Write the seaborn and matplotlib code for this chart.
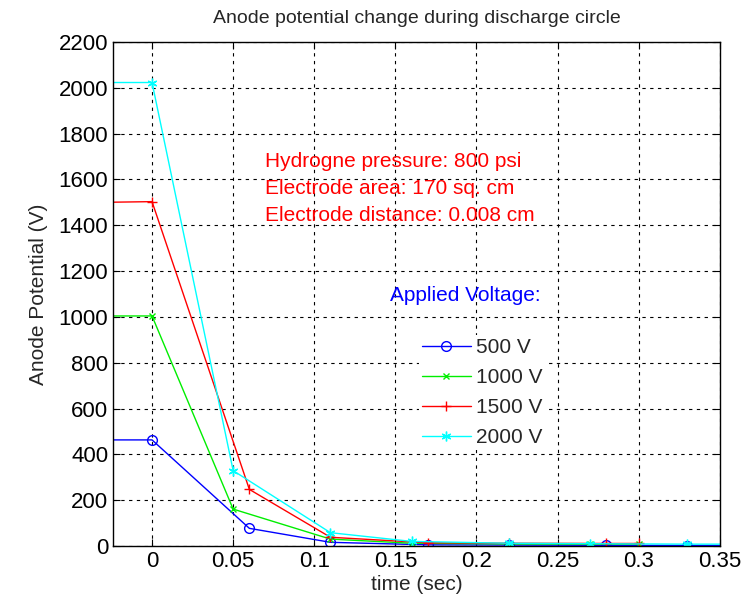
import numpy as np
import pandas as pd
import seaborn as sns
import matplotlib
matplotlib.use("Agg")
import matplotlib.pyplot as plt

# Data (time in sec, anode potential in V)
t_500 = [-0.03, 0.0, 0.06, 0.11, 0.17, 0.22, 0.28, 0.33, 0.36]
v_500 = [463, 463, 77, 16, 5, 4, 3, 2, 2]

t_1000 = [-0.03, 0.0, 0.05, 0.11, 0.16, 0.22, 0.27, 0.30]
v_1000 = [1004, 1004, 161, 30, 12, 9, 8, 8]

t_1500 = [-0.03, 0.0, 0.06, 0.11, 0.17, 0.22, 0.28, 0.30]
v_1500 = [1500, 1503, 247, 38, 14, 12, 11, 11]

t_2000 = [-0.03, 0.0, 0.05, 0.11, 0.16, 0.22, 0.27, 0.33, 0.36]
v_2000 = [2023, 2023, 329, 58, 20, 12, 10, 8, 8]

series_names = ["500 V", "1000 V", "1500 V", "2000 V"]
series_colors = ["#0000ff", "#00ee00", "#ff0000", "#00ffff"]
series_markers = ["o", "x", "+", (6, 2, 0)]

info_lines = ["Hydrogne pressure: 800 psi",
              "Electrode area: 170 sq. cm",
              "Electrode distance: 0.008 cm"]

xticks = [0, 0.05, 0.1, 0.15, 0.2, 0.25, 0.3, 0.35]
xtick_labels = ["0", "0.05", "0.1", "0.15", "0.2", "0.25", "0.3", "0.35"]
yticks = list(range(0, 2201, 200))

sns.set_style("ticks")
plt.rcParams["font.family"] = ["Liberation Sans", "DejaVu Sans"]

frames = []
for name, t, v in zip(series_names, [t_500, t_1000, t_1500, t_2000],
                      [v_500, v_1000, v_1500, v_2000]):
    frames.append(pd.DataFrame({"time": t, "potential": v, "series": name}))
df = pd.concat(frames, ignore_index=True)

fig = plt.figure(figsize=(7.49, 6.08), dpi=100)
ax = fig.add_axes([0.151, 0.102, 0.810, 0.829])

for name, color, mk in zip(series_names, series_colors, series_markers):
    sub = df[df["series"] == name]
    kw = dict(markersize=7, markeredgewidth=1.0, markeredgecolor=color)
    if mk == "o":
        kw["markerfacecolor"] = "none"
    if mk == "x":
        kw["markersize"] = 5
    sns.lineplot(data=sub, x="time", y="potential", ax=ax, color=color,
                 marker=mk, sort=False, linewidth=1.0, label=name,
                 estimator=None, **kw)

ax.set_xlim(-0.024, 0.35)
ax.set_ylim(0, 2200)
ax.set_xticks(xticks)
ax.set_xticklabels(xtick_labels)
ax.set_yticks(yticks)
ax.tick_params(direction="in", top=True, right=True, labelsize=16, length=5,
               colors="black")
ax.grid(True, color="black", linestyle=(0, (3, 4)), linewidth=0.8)
for s in ax.spines.values():
    s.set_color("black")
    s.set_linewidth(1.0)

ax.set_xlabel("time (sec)", fontsize=15, labelpad=2)
ax.set_ylabel("Anode Potential (V)", fontsize=15, labelpad=8)
ax.set_title("Anode potential change during discharge circle", fontsize=14,
             pad=14)

for i, line in enumerate(info_lines):
    ax.text(0.0697, 1677 - i * 117, line, color="red", fontsize=15,
            va="center", ha="left")

ax.text(0.1466, 1092, "Applied Voltage:", color="blue", fontsize=15,
        va="center", ha="left")

leg = ax.legend(loc="upper left", bbox_to_anchor=(0.504, 0.418), frameon=True,
                fontsize=15, handlelength=2.35, handletextpad=0.25,
                labelspacing=0.52, borderaxespad=0, borderpad=0.15)
leg.get_frame().set_facecolor("white")
leg.get_frame().set_edgecolor("none")
leg.get_frame().set_alpha(1.0)
for h in leg.legend_handles:
    h.set_linewidth(1.0)

fig.savefig("out.png", dpi=100)
